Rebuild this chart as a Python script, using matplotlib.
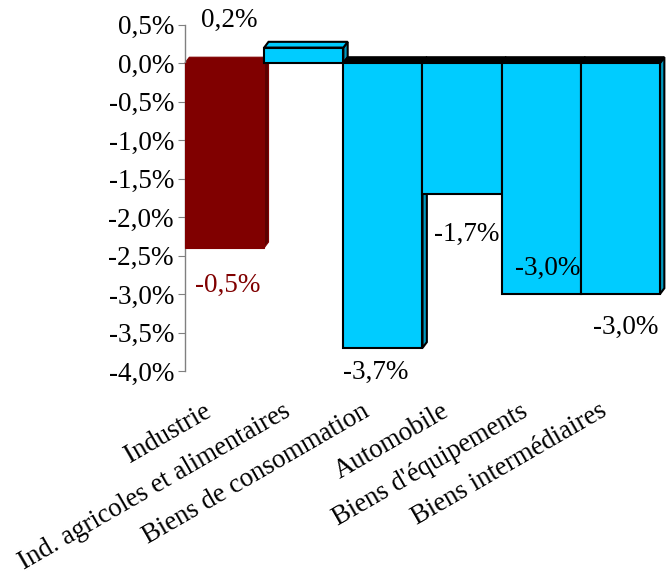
import matplotlib
matplotlib.use("Agg")
import matplotlib.pyplot as plt
from matplotlib.patches import Polygon

# ---- data ----
categories = ["Industrie", "Ind. agricoles et alimentaires", "Biens de consommation",
              "Automobile", "Biens d'équipements", "Biens intermédiaires"]
values = [-2.4, 0.2, -3.7, -1.7, -3.0, -3.0]
value_labels = ["-0,5%", "0,2%", "-3,7%", "-1,7%", "-3,0%", "-3,0%"]
y_ticks = [0.5, 0.0, -0.5, -1.0, -1.5, -2.0, -2.5, -3.0, -3.5, -4.0]
y_tick_labels = ["0,5%", "0,0%", "-0,5%", "-1,0%", "-1,5%", "-2,0%",
                 "-2,5%", "-3,0%", "-3,5%", "-4,0%"]

# ---- styles / layout ----
front_colors = ["#800000"] + ["#00CCFF"] * 5
side_colors = ["#5a0000"] + ["#0099BF"] * 5
top_colors = ["#800000", "#00CCFF"] + ["#000000"] * 4
edge_colors = ["#800000"] + ["#000000"] * 5
label_colors = ["#800000"] + ["#000000"] * 5
# label positions: (x offset from bar index, y in data units)
label_pos = [(0.04, -2.89), (-0.94, 0.55), (-0.09, -4.02),
             (0.06, -2.23), (0.08, -2.67), (0.07, -3.43)]

plt.rcParams['font.family'] = ['Liberation Serif', 'DejaVu Serif']
FS = 19.5
FS_CAT = 19.3

W, H = 668, 575
fig = plt.figure(figsize=(W / 100, H / 100), dpi=100)
left, right, top, bottom = 185, 660, 24.5, 371
ax = fig.add_axes([left / W, (H - bottom) / H, (right - left) / W, (bottom - top) / H])
ax.set_xlim(-0.5, 5.5)
ax.set_ylim(-4.0, 0.5)

dx = 0.055
dy = 0.075

# back faces (top + side) first
for i, v in enumerate(values):
    x0, x1 = i - 0.5, i + 0.5
    t, b = max(0, v), min(0, v)
    lw = 1.5 if i > 0 else 0.8
    side = Polygon([(x1, b), (x1 + dx, b + dy), (x1 + dx, t + dy), (x1, t)],
                   closed=True, facecolor=side_colors[i], edgecolor=edge_colors[i],
                   lw=lw, zorder=2, clip_on=False)
    topf = Polygon([(x0, t), (x0 + dx, t + dy), (x1 + dx, t + dy), (x1, t)],
                   closed=True, facecolor=top_colors[i], edgecolor=edge_colors[i],
                   lw=lw, zorder=2, clip_on=False)
    ax.add_patch(side)
    ax.add_patch(topf)

# front faces
for i, v in enumerate(values):
    ax.bar(i, v, width=1.0, color=front_colors[i], edgecolor=edge_colors[i],
           linewidth=1.5 if i > 0 else 0.8, zorder=3, clip_on=False)

# value labels
for i, (lab, (ox, oy)) in enumerate(zip(value_labels, label_pos)):
    ax.text(i + ox, oy, lab, ha='center', va='center', fontsize=FS,
            color=label_colors[i], zorder=5, clip_on=False)

# axes styling
for s in ["top", "right", "bottom"]:
    ax.spines[s].set_visible(False)
ax.spines["left"].set_color("#808080")
ax.spines["left"].set_linewidth(1.0)
ax.set_yticks(y_ticks)
ax.set_yticklabels(y_tick_labels, fontsize=FS)
ax.tick_params(axis='y', direction='out', length=5, color="#808080", pad=3)
ax.set_xticks([])

# category labels
for i, cat in enumerate(categories):
    ax.annotate(cat, xy=(i, 0), xycoords=ax.get_xaxis_transform(),
                xytext=(-12, -44), textcoords='offset pixels',
                rotation=30, rotation_mode='anchor', ha='right', va='baseline',
                fontsize=FS_CAT, annotation_clip=False)

fig.savefig("out.png", dpi=100)
